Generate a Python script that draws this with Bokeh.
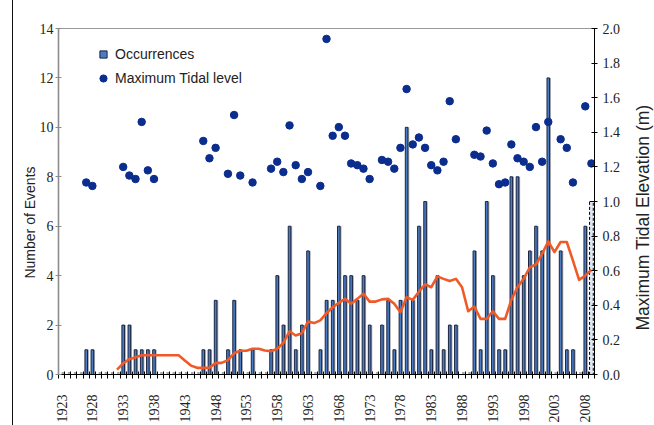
from math import pi
import numpy as np
from bokeh.plotting import figure
from bokeh.models import (ColumnDataSource, Range1d, LinearAxis, FixedTicker, CDSView,
                          IndexFilter, Legend, LegendItem, NumeralTickFormatter,
                          Label, GlobalInlineStyleSheet)
from bokeh.transform import dodge
from bokeh.embed import file_html
from bokeh.resources import INLINE

# ---------------- data ----------------
years = list(range(1923, 2010))
occurrences = [
    0, 0, 0, 0, 1, 1, 0, 0, 0, 0,      # 1923-1932
    2, 2, 1, 1, 1, 1, 0, 0, 0, 0,      # 1933-1942
    0, 0, 0, 1, 1, 3, 0, 1, 3, 1,      # 1943-1952
    0, 1, 0, 0, 1, 4, 2, 6, 1, 2,      # 1953-1962
    5, 0, 1, 3, 3, 6, 4, 4, 3, 4,      # 1963-1972
    2, 0, 2, 3, 1, 3, 10, 3, 6, 7,     # 1973-1982
    1, 4, 1, 2, 2, 0, 0, 5, 1, 7,      # 1983-1992
    4, 1, 1, 8, 8, 4, 5, 6, 5, 12,     # 1993-2002
    0, 5, 1, 1, 0, 6, 7,               # 2003-2009 (2009 provisional)
]

trend_years = list(range(1932, 2010))
trend_events = [
    0.20, 0.45, 0.62, 0.70, 0.78, 0.78, 0.78, 0.78, 0.78, 0.78,   # 1932-1941
    0.78, 0.57, 0.36, 0.27, 0.27, 0.28, 0.46, 0.47, 0.58, 0.86,   # 1942-1951
    0.96, 0.96, 1.04, 1.04, 0.97, 0.94, 1.04, 1.28, 1.75, 1.58,   # 1952-1961
    1.67, 2.14, 2.08, 2.19, 2.48, 2.72, 2.90, 3.06, 2.86, 3.06,   # 1962-1971
    3.27, 2.95, 2.95, 3.04, 3.06, 2.86, 2.52, 3.13, 3.02, 3.35,   # 1972-1981
    3.65, 3.53, 3.97, 3.87, 3.78, 3.87, 3.53, 2.56, 2.75, 2.25,   # 1982-1991
    2.25, 2.56, 2.25, 2.25, 3.02, 3.53, 3.87, 4.34, 4.45, 4.88,   # 1992-2001
    5.39, 4.95, 5.36, 5.36, 4.61, 3.83, 4.00, 4.24,               # 2002-2009
]

tide_years = [1927, 1928, 1933, 1934, 1935, 1936, 1937, 1938, 1946, 1947, 1948,
              1950, 1951, 1952, 1954, 1957, 1958, 1959, 1960, 1961, 1962, 1963,
              1965, 1966, 1967, 1968, 1969, 1970, 1971, 1972, 1973,
              1975, 1976, 1977, 1978, 1979, 1980, 1981, 1982, 1983, 1984, 1985, 1986, 1987,
              1990, 1991, 1992, 1993, 1994, 1995, 1996, 1997, 1998, 1999, 2000, 2001, 2002,
              2004, 2005, 2006, 2008, 2009]
tide_levels = [1.11, 1.09, 1.20, 1.15, 1.13, 1.46, 1.18, 1.13, 1.35, 1.25, 1.31,
               1.16, 1.50, 1.15, 1.11, 1.19, 1.23, 1.17, 1.44, 1.21, 1.13, 1.17,
               1.09, 1.94, 1.38, 1.43, 1.38, 1.22, 1.21, 1.19, 1.13,
               1.24, 1.23, 1.19, 1.31, 1.65, 1.33, 1.37, 1.31, 1.21, 1.18, 1.23, 1.58, 1.36,
               1.27, 1.26, 1.41, 1.22, 1.10, 1.11, 1.33, 1.25, 1.23, 1.20, 1.43, 1.23, 1.46,
               1.36, 1.31, 1.11, 1.55, 1.22]

x_tick_labels = list(range(1923, 2009, 5))
left_ticks = [0, 2, 4, 6, 8, 10, 12, 14]
right_ticks = [0.0, 0.2, 0.4, 0.6, 0.8, 1.0, 1.2, 1.4, 1.6, 1.8, 2.0]

left_title = "Number of Events"
right_title = "Maximum Tidal Elevation (m)"
legend_labels = ["Occurrences", "Maximum Tidal level"]

# ---------------- styles / layout ----------------
BAR_BLUE = "#4a7cc4"
BAR_EDGE = "#1b2540"
DOT = "#0b2d8e"
ORANGE = "#ef5a28"
TXT = "#222222"
NARROW = "Liberation Sans Narrow"
SANS = "Liberation Sans"

W, H = 654, 425
p = figure(width=W, height=H, output_backend="svg", toolbar_location=None,
           x_range=Range1d(1922.5, 2009.5), y_range=Range1d(0, 14),
           min_border_left=58, min_border_right=60, min_border_top=28,
           min_border_bottom=51, background_fill_color="white",
           border_fill_color="white")
p.stylesheets = [GlobalInlineStyleSheet(css=(
    "body::before { content: ''; position: fixed; left: 12px; top: 0; "
    "width: 1px; height: 100vh; background: #111; z-index: 1000; }"))]
p.extra_y_ranges = {"tide": Range1d(0, 2.0)}
p.xgrid.visible = False
p.ygrid.visible = False
p.outline_line_color = "#9a9a9a"
p.outline_line_width = 1

# x axis
xa = p.xaxis[0]
xa.ticker = FixedTicker(ticks=x_tick_labels,
                        minor_ticks=[y - 0.5 for y in years] + [years[-1] + 0.5])
xa.major_tick_line_color = None
xa.major_tick_out = 4
xa.major_tick_in = 0
xa.minor_tick_line_color = "black"
xa.minor_tick_in = 3
xa.minor_tick_out = 4
xa.axis_line_color = "black"
xa.axis_line_width = 1
xa.major_label_orientation = pi / 2
xa.major_label_standoff = 16
xa.major_label_text_font = NARROW
xa.major_label_text_font_size = "14px"
xa.major_label_text_color = TXT

# left y axis
ya = p.yaxis[0]
ya.ticker = FixedTicker(ticks=left_ticks)
ya.axis_line_color = "#8c8c8c"
ya.axis_line_width = 1.6
ya.major_tick_line_color = "#8c8c8c"
ya.major_tick_in = 3
ya.major_tick_out = 3
ya.minor_tick_line_color = None
ya.major_label_standoff = 2
ya.major_label_text_font = NARROW
ya.major_label_text_font_size = "14px"
ya.major_label_text_color = TXT

# right y axis
ra = LinearAxis(y_range_name="tide", ticker=FixedTicker(ticks=right_ticks),
                formatter=NumeralTickFormatter(format="0.0"))
ra.axis_line_color = "black"
ra.major_tick_line_color = "black"
ra.major_tick_in = 3
ra.major_tick_out = 3
ra.minor_tick_line_color = None
ra.major_label_standoff = 5
ra.major_label_text_font = NARROW
ra.major_label_text_font_size = "14px"
ra.major_label_text_color = TXT
p.add_layout(ra, "right")

# axis titles (rotated, reading upward), placed in canvas pixels
p.add_layout(Label(x=29, y=222, x_units="canvas", y_units="canvas",
                   text=left_title, angle=pi / 2, text_align="center",
                   text_baseline="middle", text_font=SANS,
                   text_font_size="14px", text_color=TXT), "left")
p.add_layout(Label(x=642, y=217, x_units="canvas", y_units="canvas",
                   text=right_title, angle=pi / 2, text_align="center",
                   text_baseline="middle", text_font=SANS,
                   text_font_size="17.5px", text_color=TXT), "right")

# bars
src = ColumnDataSource(dict(year=years, occ=occurrences))
main_view = CDSView(filter=IndexFilter(list(range(len(years) - 1))))
last_view = CDSView(filter=IndexFilter([len(years) - 1]))
p.vbar(x=dodge("year", 0.22, range=p.x_range), top=0.1, width=0.42,
       fill_color="#a8a8a8", line_color=None, source=src)
p.vbar(x=dodge("year", 0.22, range=p.x_range), top="occ", width=0.42,
       fill_color="#a8a8a8", line_color=None, source=src, view=main_view)
p.vbar(x="year", top="occ", width=0.42, fill_color=BAR_BLUE,
       line_color=BAR_EDGE, line_width=1, source=src, view=main_view)
p.vbar(x="year", top="occ", width=0.6, fill_color="#dfe7f3",
       line_color="black", line_width=1, line_dash="3 2", source=src,
       view=last_view)

# trend line
p.line(trend_years, trend_events, line_color=ORANGE, line_width=2.6,
       line_join="round")

# tidal level dots
dots = p.scatter(tide_years, tide_levels, y_range_name="tide", size=7.5,
                 fill_color=DOT, line_color=DOT)

# legend
leg_sq = p.scatter(x=[np.nan], y=[np.nan], marker="square", size=7,
                   fill_color=BAR_BLUE, line_color=BAR_EDGE)
legend = Legend(items=[LegendItem(label=legend_labels[0], renderers=[leg_sq]),
                       LegendItem(label=legend_labels[1], renderers=[dots])],
                location=(36, 286), glyph_width=18, glyph_height=18,
                label_height=20, spacing=4, padding=0, margin=0,
                border_line_color=None, background_fill_alpha=0,
                label_text_font=SANS, label_text_font_size="14px",
                label_standoff=3, label_text_color=TXT)
p.add_layout(legend)

open("out.html", "w").write(file_html(p, INLINE))
